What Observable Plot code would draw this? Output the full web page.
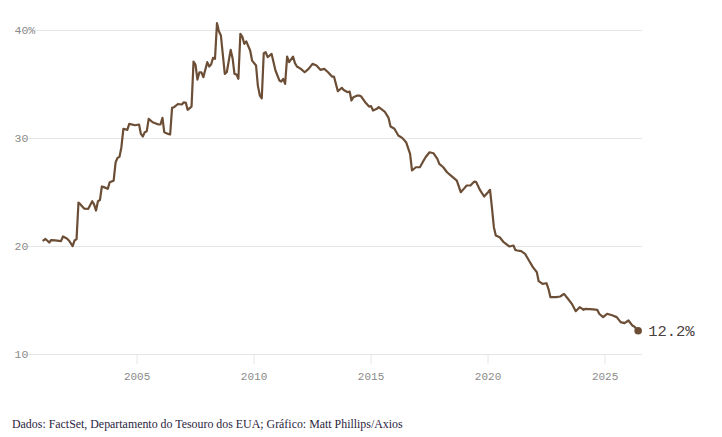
<!DOCTYPE html>
<html>
<head>
<meta charset="utf-8">
<script src="https://cdn.jsdelivr.net/npm/d3@7"></script>
<script src="https://cdn.jsdelivr.net/npm/@observablehq/plot@0.6"></script>
<style>
  html, body { margin: 0; padding: 0; background: #fff; }
  #chart { width: 722px; }
  #caption { font-family: "Liberation Serif", "DejaVu Serif", serif; font-size: 11.9px; color: #2b2440; margin: 22px 0 0 12px; }
</style>
</head>
<body>
<div id="chart"></div>
<div id="caption">Dados: FactSet, Departamento do Tesouro dos EUA; Gráfico: Matt Phillips/Axios</div>
<script>
const dates = [
"2001-01","2001-02","2001-04","2001-05","2001-07","2001-10","2001-11",
"2002-01","2002-02","2002-04","2002-05","2002-06","2002-07","2002-08","2002-10","2002-12",
"2003-02","2003-03","2003-04","2003-05","2003-06","2003-07","2003-08","2003-10","2003-11",
"2004-01","2004-02","2004-03","2004-04","2004-05","2004-06","2004-08","2004-09","2004-12",
"2005-02","2005-03","2005-04","2005-05","2005-06","2005-07","2005-09","2005-12",
"2006-01","2006-02","2006-03","2006-05","2006-06","2006-07","2006-08","2006-10","2006-12",
"2007-01","2007-02","2007-03","2007-05","2007-06","2007-07","2007-08","2007-09","2007-10","2007-11",
"2008-01","2008-02","2008-03","2008-04","2008-05","2008-06","2008-07","2008-08","2008-10","2008-11",
"2009-01","2009-02","2009-03","2009-04","2009-05","2009-06","2009-07","2009-08","2009-09","2009-11","2009-12",
"2010-02","2010-03","2010-04","2010-05","2010-06","2010-07","2010-08","2010-10","2010-12",
"2011-02","2011-03","2011-04","2011-05","2011-06","2011-07","2011-09","2011-10","2011-11",
"2012-01","2012-03","2012-05","2012-07","2012-09","2012-11",
"2013-01","2013-03","2013-05","2013-06","2013-07","2013-08","2013-10","2013-11",
"2014-01","2014-02","2014-03","2014-04","2014-06","2014-07","2014-08","2014-10","2014-12",
"2015-01","2015-02","2015-04","2015-05","2015-08","2015-10","2015-11",
"2016-01","2016-03","2016-05","2016-07","2016-09","2016-10","2016-12",
"2017-02","2017-04","2017-05","2017-07","2017-09","2017-11","2017-12",
"2018-02","2018-04","2018-06","2018-09","2018-11",
"2019-01","2019-02","2019-04","2019-06","2019-07","2019-09","2019-11",
"2020-01","2020-02","2020-03","2020-04","2020-05","2020-07","2020-09","2020-12",
"2021-02","2021-03","2021-04","2021-06","2021-08","2021-10","2021-12",
"2022-02","2022-03","2022-05","2022-07","2022-08","2022-09","2022-12",
"2023-02","2023-04","2023-06","2023-08","2023-10","2023-12",
"2024-02","2024-03","2024-07","2024-09","2024-10","2024-12",
"2025-02","2025-05","2025-07","2025-09","2025-11",
"2026-01","2026-03","2026-04","2026-06"
];
const shares = [
20.56,20.7,20.37,20.6,20.56,20.5,20.93,
20.74,20.56,20.03,20.56,20.68,24.07,23.9,23.5,23.49,
24.2,23.9,23.33,24.2,24.3,25.56,25.5,25.34,25.96,
26.1,27.8,28.2,28.3,29.2,30.9,30.8,31.36,31.23,
31.3,30.43,30.19,30.59,30.68,31.82,31.51,31.3,
31.3,31.91,30.59,30.43,30.37,32.84,32.9,33.2,33.15,
33.36,33.3,32.66,32.96,37.13,36.85,35.46,36.14,36.14,35.68,
37.07,36.67,36.85,37.47,37.38,40.68,39.94,39.54,35.99,36.14,
38.21,37.38,35.99,35.93,35.53,39.69,39.44,38.77,39.0,38.15,37.22,
36.76,34.9,33.98,33.73,37.9,37.99,37.53,37.84,36.3,
35.37,35.28,35.53,35.06,37.59,37.07,37.59,36.98,36.67,
36.45,36.14,36.45,36.92,36.76,36.36,
36.45,36.14,35.74,35.74,35.06,34.38,34.69,34.5,
34.29,34.35,33.52,33.83,33.98,33.98,33.89,33.36,32.96,
33.0,32.59,32.75,32.9,32.5,31.91,31.11,
30.9,30.28,30.06,29.66,28.58,27.04,27.34,
27.34,27.96,28.27,28.73,28.64,28.12,27.65,
27.34,26.88,26.57,26.11,25.03,
25.43,25.65,25.65,26.02,25.96,25.19,24.63,
25.03,25.25,23.64,21.79,21.02,20.86,20.4,20.0,
20.09,19.69,19.63,19.57,19.32,18.7,18.09,
17.62,16.79,16.54,16.6,16.08,15.31,15.31,
15.37,15.62,15.16,14.69,14.01,14.38,
14.14,14.23,14.17,14.14,13.77,13.46,
13.77,13.61,13.46,13.0,12.9,
13.15,12.69,12.6,12.2
];
const yTicks = [10, 20, 30, 40];
const xTickYears = [2005, 2010, 2015, 2020, 2025];
const lastLabel = "12.2%";

const parse = d3.utcParse("%Y-%m");
const data = dates.map((d, i) => ({date: parse(d), value: shares[i]}));
const last = data[data.length - 1];
const xTicks = xTickYears.map(y => new Date(Date.UTC(y, 0, 1)));

const mono = "'Liberation Mono', 'DejaVu Sans Mono', monospace";
const lineColor = "#6b4e35";

const chart = Plot.plot({
  width: 722,
  height: 395,
  marginLeft: 28,
  marginRight: 80,
  marginTop: 20,
  marginBottom: 41,
  style: {fontFamily: mono, fontSize: "11px", background: "#fff"},
  x: {type: "utc", domain: [new Date(Date.UTC(2000, 4, 12)), new Date(Date.UTC(2026, 7, 8))]},
  y: {domain: [10, 40.93]},
  marks: [
    Plot.ruleY(yTicks, {stroke: "#e6e6e6", strokeWidth: 1}),
    Plot.axisX({ticks: xTicks, tickFormat: d3.utcFormat("%Y"), tickSize: 10, tickPadding: 8, stroke: "#e6e6e6", color: "#8a8a8a", label: null, fontSize: 11}),
    Plot.axisY({ticks: yTicks, tickSize: 0, textAnchor: "start", dx: -14, tickPadding: 0, label: null, fill: "#8a8a8a",
      tickFormat: d => d === 40 ? "40%" : String(d), fontSize: 11.5}),
    Plot.line(data, {x: "date", y: "value", stroke: lineColor, strokeWidth: 2.2, strokeLinejoin: "round"}),
    Plot.dot([last], {x: "date", y: "value", r: 3.8, fill: lineColor}),
    Plot.text([last], {x: "date", y: "value", text: () => lastLabel, dx: 10, textAnchor: "start", fill: "#4a4040", fontSize: 15.5, fontFamily: mono})
  ]
});
document.getElementById("chart").appendChild(chart);
</script>
</body>
</html>
